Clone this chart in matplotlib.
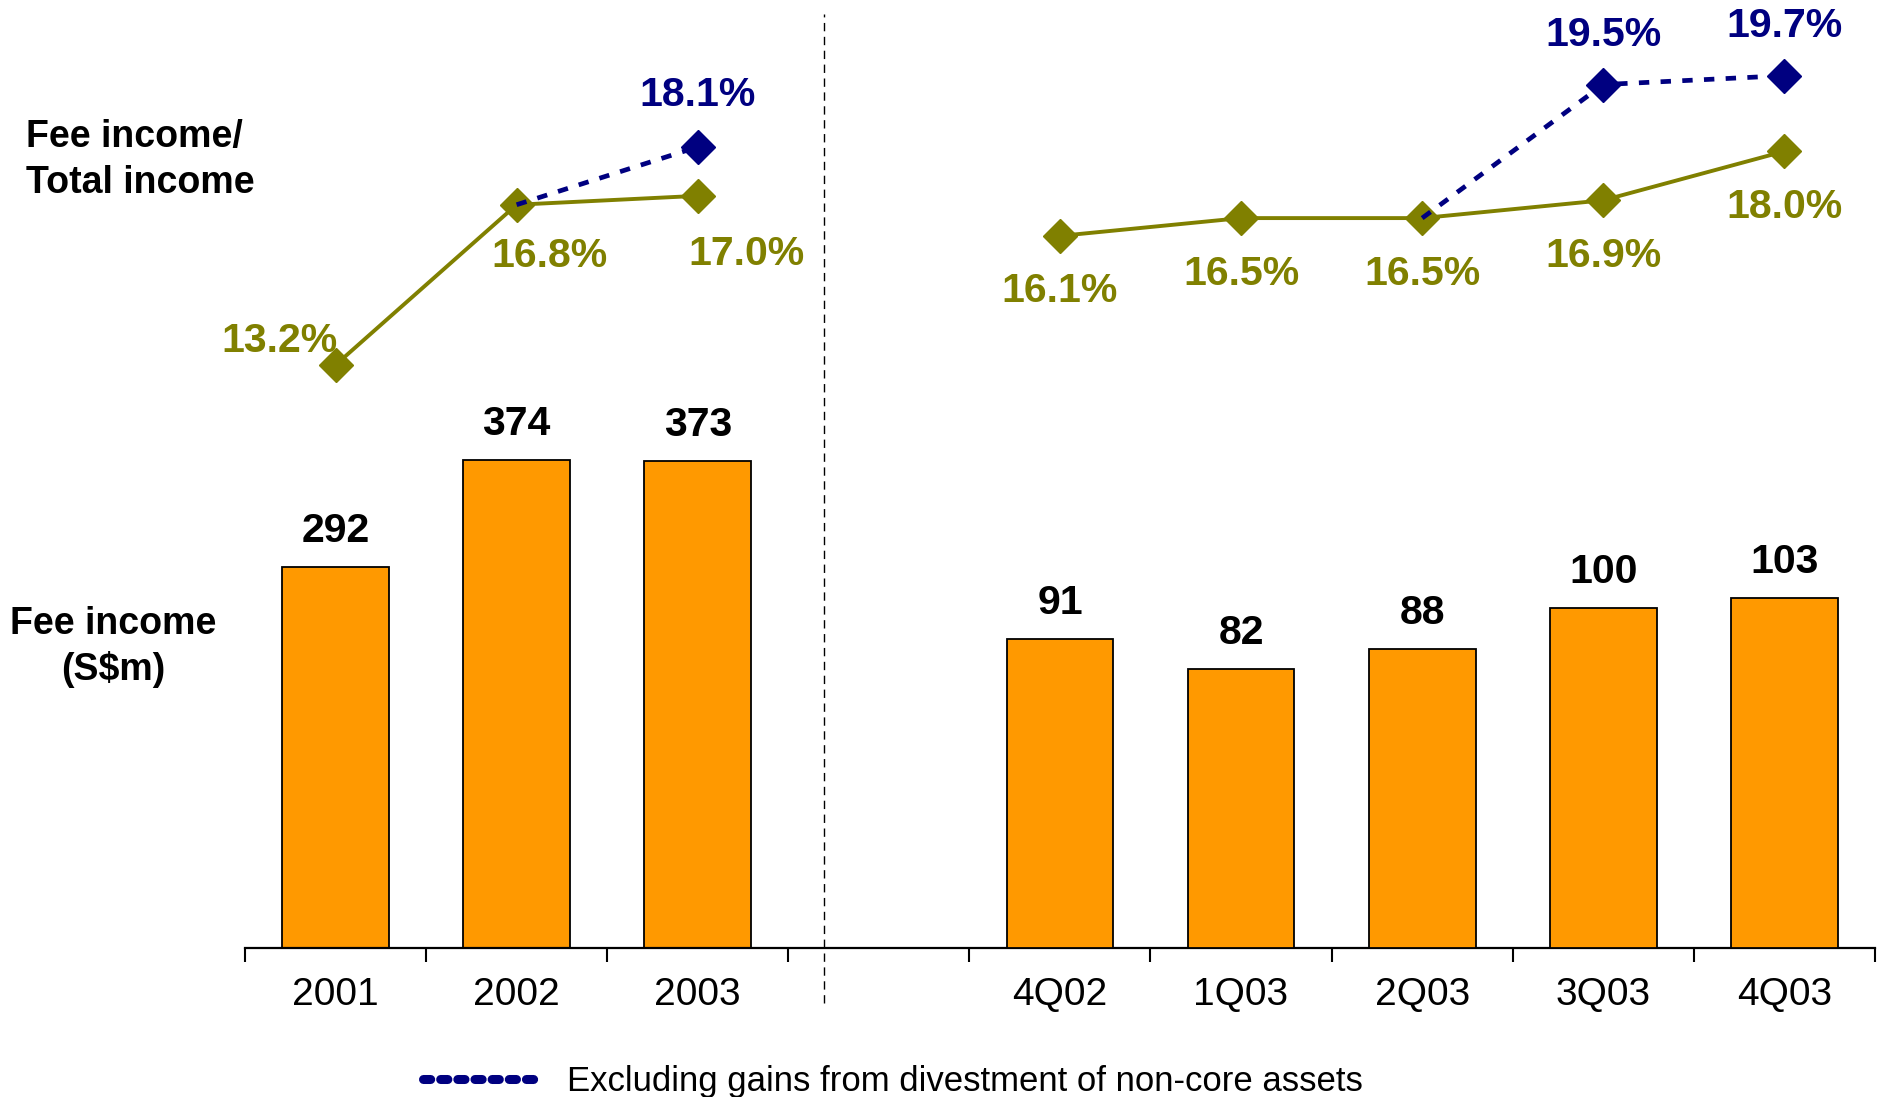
import numpy as np
import matplotlib
matplotlib.use("Agg")
import matplotlib.pyplot as plt
from matplotlib.lines import Line2D

plt.rcParams["font.family"] = ["Liberation Sans", "DejaVu Sans"]

# Datos
annual_labels = ["2001", "2002", "2003"]
quarter_labels = ["4Q02", "1Q03", "2Q03", "3Q03", "4Q03"]
annual_fee = [292, 374, 373]
quarter_fee = [91, 82, 88, 100, 103]
annual_ratio = [13.2, 16.8, 17.0]
quarter_ratio = [16.1, 16.5, 16.5, 16.9, 18.0]
annual_excl = [np.nan, 16.8, 18.1]
quarter_excl = [np.nan, np.nan, 16.5, 19.5, 19.7]

# 3 slots anuales, un hueco, 5 slots trimestrales
x_annual = np.arange(len(annual_labels))
x_quarter = np.arange(len(quarter_labels)) + len(annual_labels) + 1

bar_col = "#FF9900"
olive = "#808000"
navy = "#000080"

fig = plt.figure(figsize=(18.77, 10.97), dpi=100)
ax = fig.add_axes([0.1305, 0.1358, 0.8684, 0.8642])
ax_q = ax.twinx()
ax_p = ax.twinx()

# Barras (escala distinta para anual y trimestral)
ax.bar(x_annual, annual_fee, width=0.59, color=bar_col, edgecolor="black", linewidth=1.3)
ax_q.bar(x_quarter, quarter_fee, width=0.59, color=bar_col, edgecolor="black", linewidth=1.3)
ax.set_ylim(0, 726)
ax_q.set_ylim(0, 279)

bold = dict(fontsize=29.5, fontweight="bold", ha="center", va="center")
for x, v in zip(x_annual, annual_fee):
    ax.annotate(str(v), (x, v), xytext=(0, 26), textcoords="offset points", **bold)
for x, v in zip(x_quarter, quarter_fee):
    ax_q.annotate(str(v), (x, v), xytext=(0, 26), textcoords="offset points", **bold)

# Lineas de porcentaje
ax_p.set_ylim(0.1, 21.4)
ax_p.plot(x_annual, annual_ratio, color=olive, lw=2.8, marker="D", ms=17, zorder=3)
ax_p.plot(x_quarter, quarter_ratio, color=olive, lw=2.8, marker="D", ms=17, zorder=3)
ax_p.plot(x_annual, annual_excl, color=navy, lw=3.4, ls=(0, (2.2, 2.4)), zorder=4)
ax_p.plot(x_quarter, quarter_excl, color=navy, lw=3.4, ls=(0, (2.2, 2.4)), zorder=4)
ax_p.plot(x_annual[2:], annual_excl[2:], color=navy, ls="none", marker="D", ms=17, zorder=5)
ax_p.plot(x_quarter[3:], quarter_excl[3:], color=navy, ls="none", marker="D", ms=17, zorder=5)

annual_off = [(-40, 17), (24, -37), (35, -42)]
for x, v, off in zip(x_annual, annual_ratio, annual_off):
    ax_p.annotate(f"{v:.1f}%", (x, v), xytext=off, textcoords="offset points", color=olive, **bold)
for x, v in zip(x_quarter, quarter_ratio):
    ax_p.annotate(f"{v:.1f}%", (x, v), xytext=(0, -40), textcoords="offset points", color=olive, **bold)
ax_p.annotate(f"{annual_excl[2]:.1f}%", (x_annual[2], annual_excl[2]), xytext=(0, 37),
              textcoords="offset points", color=navy, **bold)
for x, v in zip(x_quarter[3:], quarter_excl[3:]):
    ax_p.annotate(f"{v:.1f}%", (x, v), xytext=(0, 36), textcoords="offset points", color=navy, **bold)

# Ejes
ax.set_xlim(-0.5, x_quarter[-1] + 0.5)
ax.set_xticks(list(x_annual) + list(x_quarter), annual_labels + quarter_labels)
ax.set_xticks(np.arange(-0.5, x_quarter[-1] + 1, 1), minor=True)
ax.tick_params(axis="x", which="major", length=0, pad=21, labelsize=28)
ax.tick_params(axis="x", which="minor", length=10, width=1.5, color="black")
ax.set_yticks([])
for a in (ax_q, ax_p):
    a.set_yticks([])
    for s in a.spines.values():
        s.set_visible(False)
for s in ("left", "right", "top"):
    ax.spines[s].set_visible(False)
ax.spines["bottom"].set_linewidth(1.6)

# Separador
ax.axvline(2.7, ymin=-0.058, ymax=0.985, color="black", lw=1, ls=(0, (6, 4)), clip_on=False)

# Textos laterales
fig.text(26 / 1877, 1 - 160 / 1097, "Fee income/\nTotal income", fontsize=27,
         fontweight="bold", ha="left", va="center", linespacing=1.38)
fig.text(113 / 1877, 1 - 647 / 1097, "Fee income\n(S$m)", fontsize=27,
         fontweight="bold", ha="center", va="center", multialignment="center", linespacing=1.34)

# Leyenda
proxy = Line2D([], [], color=navy, lw=6.5, ls=(0, (0.8, 1.1)), dash_capstyle="round")
fig.legend(handles=[proxy], labels=["Excluding gains from divestment of non-core assets"],
           loc="center left", bbox_to_anchor=(423 / 1877, 1 - 1082 / 1097), frameon=False,
           borderpad=0, borderaxespad=0, handlelength=3.3, handletextpad=0.86, fontsize=25)

fig.savefig("out.png", dpi=100)
